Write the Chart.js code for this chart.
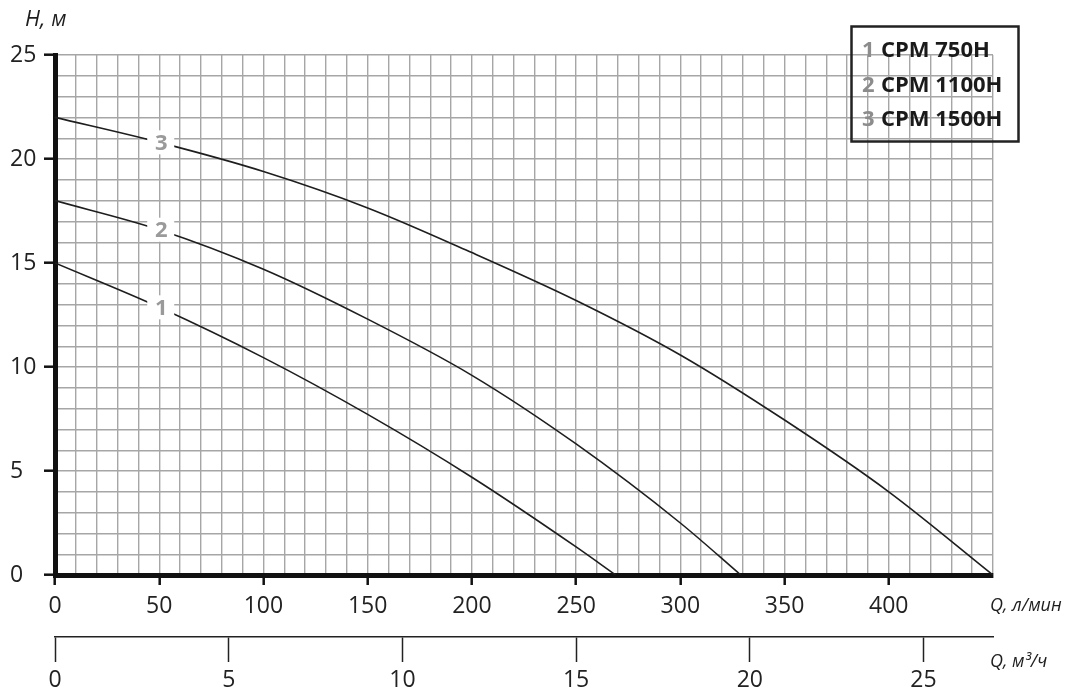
<!DOCTYPE html>
<html lang="ru">
<head>
<meta charset="utf-8">
<title>CPM H — напорные характеристики</title>
<script src="https://cdn.jsdelivr.net/npm/chart.js@4.4.1/dist/chart.umd.min.js"></script>
<style>
  html, body { margin: 0; padding: 0; background: #fff; }
  canvas { display: block; }
</style>
</head>
<body>
<canvas id="chart" width="1067" height="696"></canvas>
<script>
// curve ids / model names
const curveIds = ['1', '2', '3'];
const curveNames = ['CPM 750H', 'CPM 1100H', 'CPM 1500H'];

// Q, l/min  vs  H, m
const flow1 = [0, 50, 100, 150, 200, 250, 269];
const head1 = [15, 12.87, 10.45, 7.72, 4.7, 1.35, 0];

const flow2 = [0, 50, 100, 150, 200, 250, 300, 329];
const head2 = [18, 16.6, 14.7, 12.3, 9.6, 6.3, 2.5, 0];

const flow3 = [0, 50, 100, 150, 200, 250, 300, 350, 400, 450];
const head3 = [22, 20.8, 19.4, 17.65, 15.5, 13.2, 10.58, 7.45, 4.0, 0];

// tick labels
const flowLabels = [0, 50, 100, 150, 200, 250, 300, 350, 400];
const cubicLabels = [0, 5, 10, 15, 20, 25];
const headLabels = [0, 5, 10, 15, 20, 25];
const labelAtFlow = 50;

const tickFont = { family: 'Open Sans', size: 23 };
const inkColor = '#1e1e1e';
const gridColor = '#a6a6a6';

const toPoints = (xs, ys) => xs.map((x, i) => ({ x: x, y: ys[i] }));
const curves = [toPoints(flow1, head1), toPoints(flow2, head2), toPoints(flow3, head3)];

const datasets = curves.map((pts, i) => ({
  label: curveNames[i],
  data: pts,
  borderColor: inkColor,
  borderWidth: 1.6,
  pointRadius: 0,
  fill: false,
  cubicInterpolationMode: 'monotone',
  xAxisID: 'x',
  yAxisID: 'y'
}));

// gray numbers sitting on each curve, with a white patch behind
const curveLabels = {
  id: 'curveLabels',
  afterDatasetsDraw(chart) {
    const { ctx, scales } = chart;
    ctx.save();
    ctx.font = 'bold 22px "Open Sans"';
    ctx.textAlign = 'center';
    ctx.textBaseline = 'middle';
    curves.forEach((pts, i) => {
      const p = pts.find(pt => pt.x === labelAtFlow);
      if (!p) return;
      const px = scales.x.getPixelForValue(p.x);
      const py = scales.y.getPixelForValue(p.y);
      ctx.fillStyle = '#fff';
      ctx.fillRect(px - 12, py - 12, 27, 24);
      ctx.fillStyle = '#9a9a9a';
      ctx.fillText(curveIds[i], px + 2, py + 1);
    });
    ctx.restore();
  }
};

// axis names + the framed legend
const extras = {
  id: 'extras',
  afterDraw(chart) {
    const { ctx, chartArea } = chart;
    ctx.save();
    ctx.fillStyle = inkColor;
    ctx.textAlign = 'left';
    ctx.textBaseline = 'alphabetic';
    ctx.font = 'italic 22px "Open Sans"';
    ctx.fillText('H, м', 25, 26);
    ctx.font = 'italic 18px "Open Sans"';
    ctx.fillText('Q, л/мин', chartArea.right - 3, 611);
    ctx.fillText('Q, м³/ч', chartArea.right - 3, 667);

    ctx.lineWidth = 2.5;
    ctx.strokeStyle = '#222';
    ctx.strokeRect(851.5, 26.5, 167, 115);
    ctx.font = 'bold 22px "Open Sans"';
    const rows = [57, 91.5, 126];
    curveNames.forEach((name, i) => {
      ctx.fillStyle = '#8c8c8c';
      ctx.fillText(curveIds[i], 862, rows[i]);
      ctx.fillStyle = '#1a1a1a';
      ctx.fillText(name, 881, rows[i]);
    });
    ctx.restore();
  }
};

new Chart(document.getElementById('chart'), {
  type: 'line',
  data: { datasets },
  options: {
    responsive: false,
    animation: false,
    devicePixelRatio: 1,
    layout: { padding: { left: 10, top: 55, right: 74, bottom: 0 } },
    plugins: { legend: { display: false }, tooltip: { enabled: false } },
    scales: {
      x: {
        type: 'linear',
        position: 'bottom',
        min: 0,
        max: 450,
        weight: 0,
        afterFit: s => { s.height = 62; },
        border: { display: true, width: 5, color: '#111' },
        grid: {
          color: gridColor,
          lineWidth: 1.4,
          drawTicks: true,
          tickLength: 10,
          tickWidth: 2.5,
          tickColor: c => (c.tick && flowLabels.includes(c.tick.value)) ? '#111' : 'rgba(0,0,0,0)'
        },
        ticks: {
          stepSize: 10,
          maxTicksLimit: 100,
          autoSkip: false,
          maxRotation: 0,
          padding: 8,
          color: '#222',
          font: tickFont,
          callback: v => flowLabels.includes(v) ? String(v) : ''
        }
      },
      x2: {
        type: 'linear',
        position: 'bottom',
        min: 0,
        max: 27,
        weight: 1,
        afterFit: s => { s.height = 59; },
        border: { display: true, width: 1.5, color: '#222' },
        grid: {
          drawOnChartArea: false,
          drawTicks: true,
          tickLength: 25,
          tickWidth: 1.5,
          tickColor: '#222'
        },
        ticks: {
          stepSize: 5,
          includeBounds: false,
          maxRotation: 0,
          padding: 5,
          color: '#222',
          font: tickFont,
          callback: v => cubicLabels.includes(v) ? String(v) : ''
        }
      },
      y: {
        type: 'linear',
        position: 'left',
        min: 0,
        max: 25,
        afterFit: s => { s.width = 45; },
        border: { display: true, width: 5, color: '#111' },
        grid: {
          color: gridColor,
          lineWidth: 1.4,
          drawTicks: true,
          tickLength: 11,
          tickWidth: 2.5,
          tickColor: c => (c.tick && headLabels.includes(c.tick.value)) ? '#111' : 'rgba(0,0,0,0)'
        },
        ticks: {
          stepSize: 1,
          maxTicksLimit: 100,
          autoSkip: false,
          crossAlign: 'far',
          color: '#222',
          font: tickFont,
          callback: v => headLabels.includes(v) ? String(v) : ''
        }
      }
    }
  },
  plugins: [curveLabels, extras]
});
</script>
</body>
</html>
